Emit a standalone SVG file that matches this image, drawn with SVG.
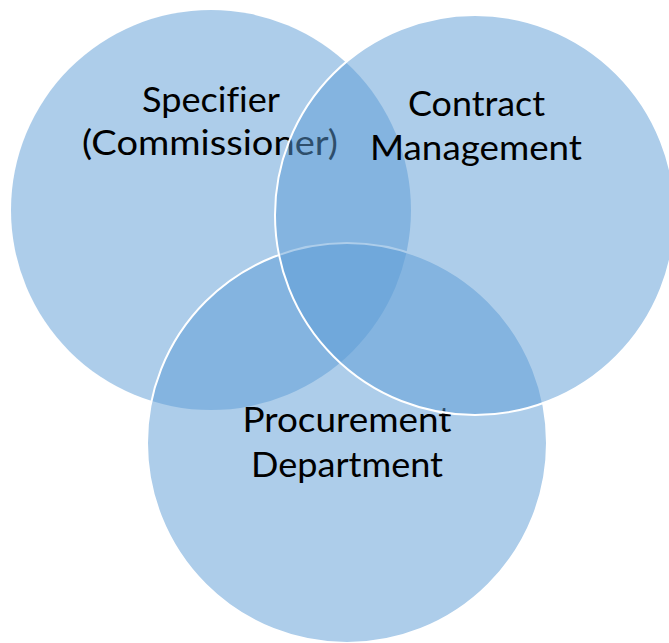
<svg xmlns="http://www.w3.org/2000/svg" width="669" height="643" viewBox="0 0 669 643">
  <style>
    .set { fill: #5B9BD5; fill-opacity: 0.5; }
    .ring { stroke: #FFFFFF; stroke-width: 2; }
    .label { font-family: Lato, "Open Sans", sans-serif; font-size: 34px; fill: #000000; text-anchor: middle; font-variant-ligatures: none; }
  </style>
  <rect width="669" height="643" fill="#FFFFFF"/>
  <!-- Drawing order: left set, bottom set, right set (each with its label) -->
  <g id="specifier">
    <circle class="set" cx="211" cy="210" r="200"/>
    <text class="label" x="211" y="112" textLength="138" lengthAdjust="spacingAndGlyphs">Specifier</text>
    <text class="label" x="210" y="155" textLength="256" lengthAdjust="spacingAndGlyphs">(Commissioner)</text>
  </g>
  <g id="procurement">
    <circle class="set ring" cx="347" cy="443" r="200"/>
    <text class="label" x="347" y="432" textLength="209" lengthAdjust="spacingAndGlyphs">Procurement</text>
    <text class="label" x="347" y="477" textLength="192" lengthAdjust="spacingAndGlyphs">Department</text>
  </g>
  <g id="contract-management">
    <circle class="set ring" cx="475" cy="215" r="200"/>
    <text class="label" x="476.5" y="116" textLength="137" lengthAdjust="spacingAndGlyphs">Contract</text>
    <text class="label" x="476" y="160" textLength="212" lengthAdjust="spacingAndGlyphs">Management</text>
  </g>
</svg>
